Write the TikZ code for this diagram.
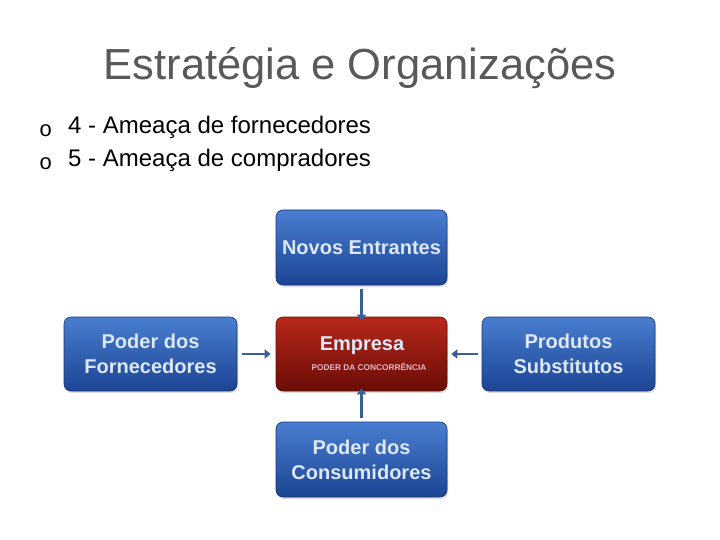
\documentclass[tikz,border=0pt]{standalone}
\usepackage{fontspec}
\setmainfont{Liberation Sans}
\newfontfamily\bulletfont{Liberation Mono}
\usetikzlibrary{arrows.meta,shadows}
\definecolor{titlegray}{HTML}{595959}
\definecolor{bluetop}{HTML}{4A7ED0}
\definecolor{bluebot}{HTML}{1C4494}
\definecolor{redtop}{HTML}{B8281A}
\definecolor{redbot}{HTML}{6A0C06}
\definecolor{boxtext}{HTML}{DDE8FA}
\definecolor{arrowcol}{HTML}{3A5E98}
\tikzset{
  forcebox/.style={rounded corners=7pt, minimum width=171pt, minimum height=75pt,
    top color=bluetop, bottom color=bluebot, draw=bluebot!80!black, line width=0.6pt,
    text=boxtext, font=\bfseries\fontsize{20}{25}\selectfont, align=center, inner sep=0pt,
    drop shadow={opacity=0.25, shadow xshift=1pt, shadow yshift=-2pt}},
  redbox/.style={forcebox, top color=redtop, bottom color=redbot, draw=redbot},
  forcearrow/.style={-{Triangle[length=6pt,width=9pt]}, line width=2.5pt, draw=arrowcol},
  bullettext/.style={anchor=west, font=\fontsize{24}{28}\selectfont, inner sep=0pt},
  bulletmark/.style={anchor=west, font=\bulletfont\fontsize{22}{26}\selectfont, inner sep=0pt}
}
\begin{document}
\begin{tikzpicture}[x=1pt,y=-1pt]
\useasboundingbox (0,0) rectangle (720,540);
\node[text=titlegray, font=\fontsize{43.5}{52}\selectfont] (title) at (360,68) {Estratégia e Organizações};
\node[bulletmark] (b1) at (39,131) {o};
\node[bullettext] (t1) at (68,127) {4 - Ameaça de fornecedores};
\node[bulletmark] (b2) at (39,164) {o};
\node[bullettext] (t2) at (68,160) {5 - Ameaça de compradores};

\node[forcebox] (novos) at (361.5,247.5) {Novos Entrantes};
\node[redbox, minimum height=74pt] (empresa) at (361.5,354) {};
\node[text=boxtext, font=\bfseries\fontsize{20}{24}\selectfont] (emptext) at (362,346) {Empresa};
\node[text=boxtext!80!red, font=\bfseries\fontsize{8.3}{10}\selectfont] (empsub) at (369,367) {PODER DA CONCORRÊNCIA};
\node[forcebox, minimum width=173pt, minimum height=74pt] (forn) at (150.5,354) {Poder dos\\Fornecedores};
\node[forcebox, minimum width=173pt, minimum height=74pt] (subst) at (568.5,354) {Produtos\\Substitutos};
\node[forcebox] (cons) at (361.5,459.5) {Poder dos\\Consumidores};

\draw[forcearrow] ([yshift=-4pt]novos.south) -- ([yshift=-4pt]empresa.north);
\draw[forcearrow] ([xshift=5pt]forn.east) -- ([xshift=-5pt]empresa.west);
\draw[forcearrow] ([xshift=-4pt]subst.west) -- ([xshift=4pt]empresa.east);
\draw[forcearrow] ([yshift=4pt]cons.north) -- ([yshift=3pt]empresa.south);
\end{tikzpicture}
\end{document}
